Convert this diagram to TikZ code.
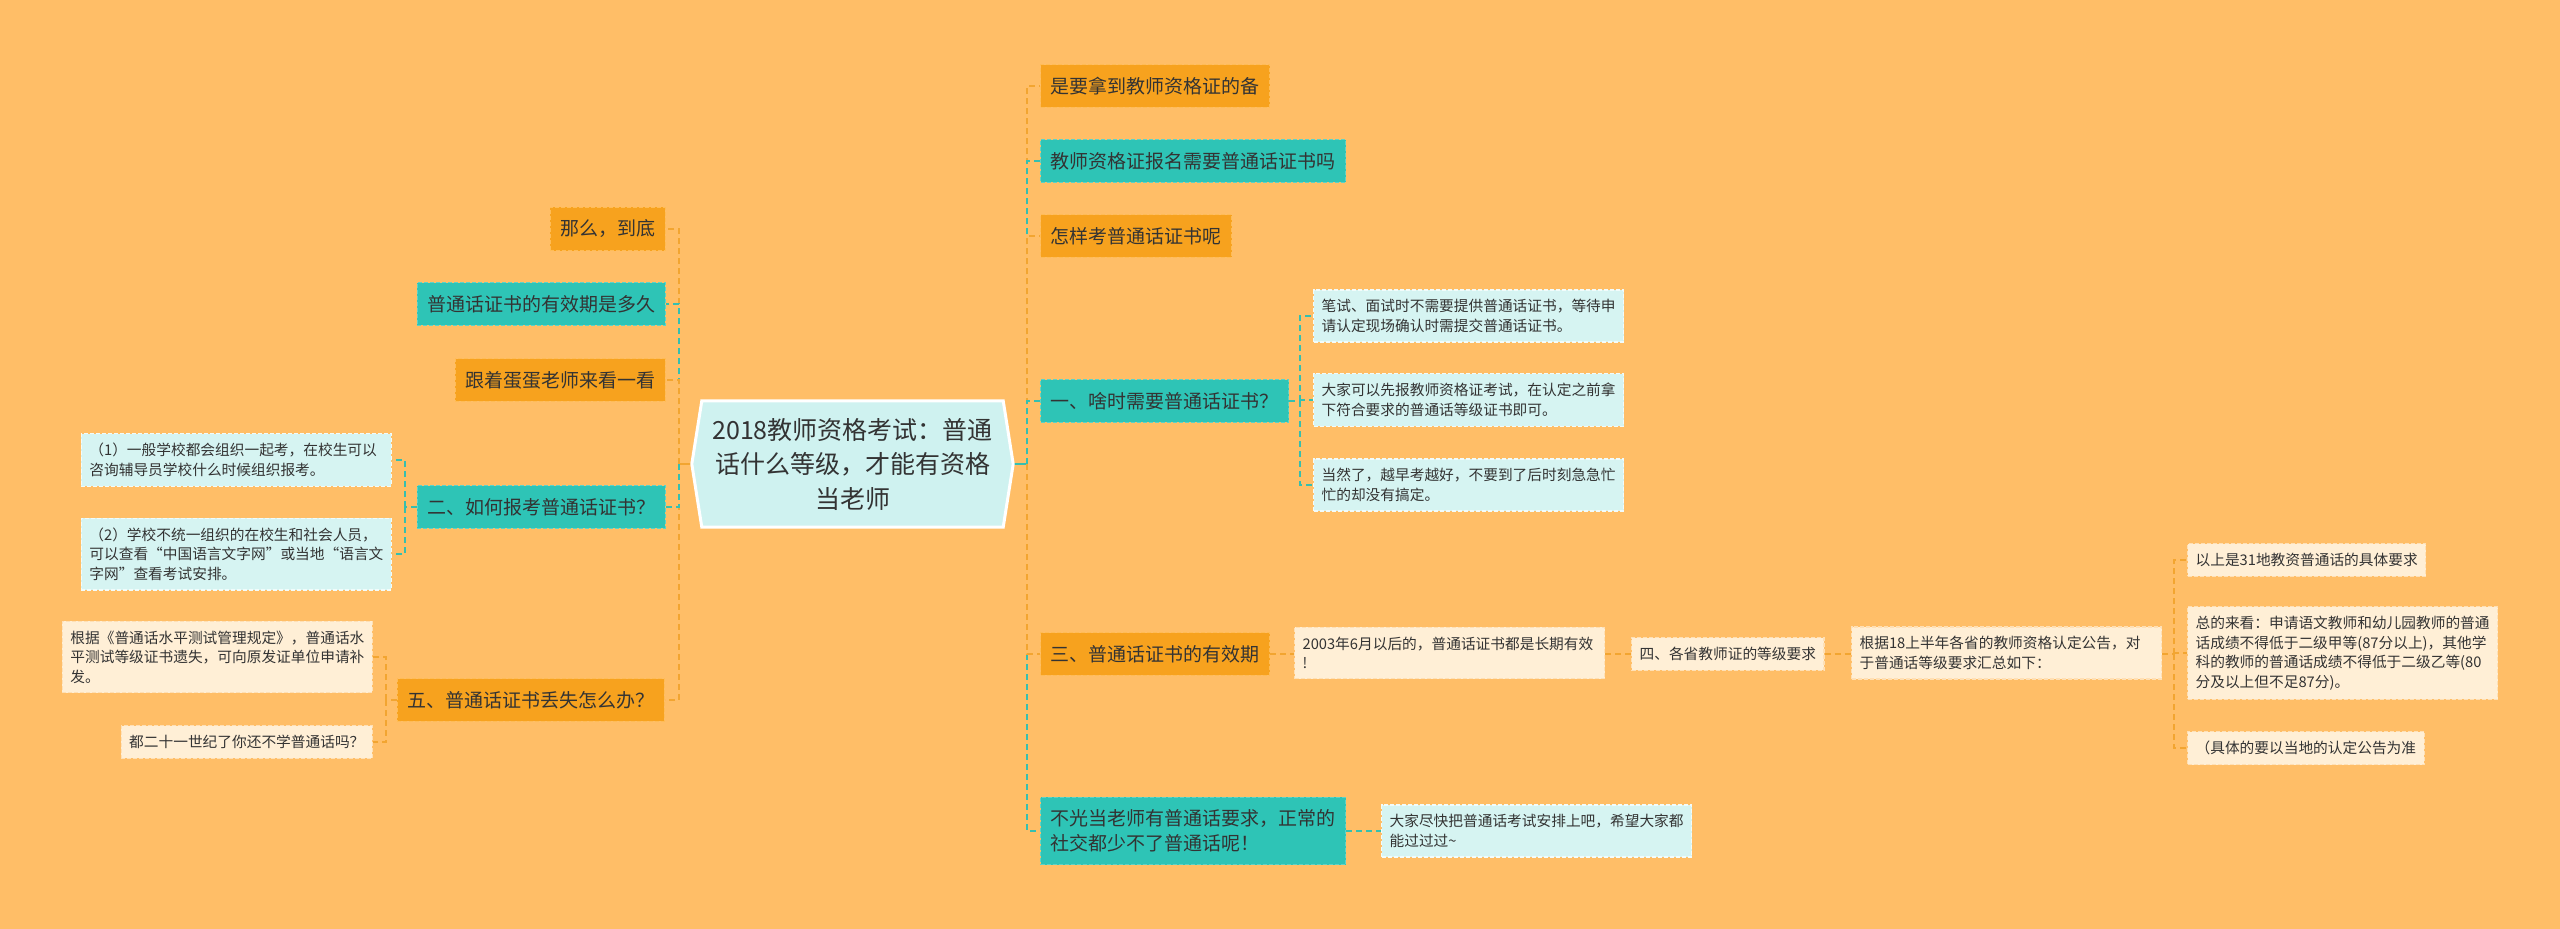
\documentclass[tikz,border=0pt]{standalone}
\usepackage{fontspec}
\setmainfont{Noto Sans CJK SC}
\usetikzlibrary{backgrounds,calc}

\definecolor{paper}{HTML}{FFBE67}
\definecolor{ink}{HTML}{333333}
\definecolor{orangeFill}{HTML}{F7A21E}
\definecolor{orangeRim}{HTML}{FFBC55}
\definecolor{tealFill}{HTML}{2EC4B6}
\definecolor{tealRim}{HTML}{5ED3C7}
\definecolor{cyanFill}{HTML}{D6F4F2}
\definecolor{cyanRim}{HTML}{F2FCFB}
\definecolor{creamFill}{HTML}{FFEFD6}
\definecolor{creamRim}{HTML}{FFE0B5}
\definecolor{lineO}{HTML}{F2A531}
\definecolor{lineT}{HTML}{36BFAF}
\definecolor{hubFill}{HTML}{CFF2F0}

\begin{document}
\begin{tikzpicture}[
  x=1pt, y=-1pt,
  box/.style={dash pattern=on 4pt off 2pt, line width=1.2pt, text=ink},
  topic/.style={box, font=\fontsize{19pt}{25pt}\selectfont, inner xsep=10pt, inner ysep=12.5pt, align=left},
  otopic/.style={topic, fill=orangeFill, draw=orangeRim},
  ttopic/.style={topic, fill=tealFill, draw=tealRim},
  note/.style={box, font=\fontsize{14.7pt}{19.5pt}\selectfont, inner xsep=8pt, inner ysep=9.5pt, align=left},
  para/.style={note, text width=294pt},
  cnote/.style={note, fill=cyanFill, draw=cyanRim},
  knote/.style={note, fill=creamFill, draw=creamRim},
  hub/.style={minimum width=301pt, minimum height=126pt, inner sep=0pt, align=center,
              font=\fontsize{25pt}{34.5pt}\selectfont, text=ink},
  link/.style={dash pattern=on 6pt off 4pt, line width=1.8pt},
  linkO/.style={link, draw=lineO},
  linkT/.style={link, draw=lineT}
]
\useasboundingbox (0,0) rectangle (2560,929);

% ---------------- centre ----------------
\node[hub] (hub) at (852.5,464) {2018教师资格考试：普通\\话什么等级，才能有资格\\当老师};
\coordinate (hubL) at ($(hub.west)+(-10,0)$);
\coordinate (hubR) at ($(hub.east)+(10,0)$);
\coordinate (spL) at (679,464);
\coordinate (spR) at (1027,464);

% ---------------- left side ----------------
\node[otopic, anchor=east] (nadi) at (666,229) {那么，到底};
\node[ttopic, anchor=east] (qixian) at (666,304) {普通话证书的有效期是多久};
\node[otopic, anchor=east] (genzhe) at (666,380) {跟着蛋蛋老师来看一看};
\node[ttopic, anchor=east] (er) at (666,507) {二、如何报考普通话证书？};
\node[otopic, anchor=east] (wu) at (665,700) {五、普通话证书丢失怎么办？};

\node[cnote, para, anchor=east] (er1) at (392,460)
  {（1）一般学校都会组织一起考，在校生可以\\咨询辅导员学校什么时候组织报考。};
\node[cnote, para, anchor=east] (er2) at (392,554)
  {（2）学校不统一组织的在校生和社会人员，\\可以查看“中国语言文字网”或当地“语言文\\字网”查看考试安排。};
\node[knote, para, anchor=east] (wu1) at (373,657)
  {根据《普通话水平测试管理规定》，普通话水\\平测试等级证书遗失，可向原发证单位申请补\\发。};
\node[knote, anchor=east] (wu2) at (373,742) {都二十一世纪了你还不学普通话吗？};

% ---------------- right side ----------------
\node[otopic, anchor=west] (bei) at (1040,86) {是要拿到教师资格证的备};
\node[ttopic, anchor=west] (baoming) at (1040,161) {教师资格证报名需要普通话证书吗};
\node[otopic, anchor=west] (zenyang) at (1040,236) {怎样考普通话证书呢};
\node[ttopic, anchor=west] (yi) at (1040,401) {一、啥时需要普通话证书？};
\node[otopic, anchor=west] (san) at (1040,654) {三、普通话证书的有效期};
\node[ttopic, anchor=west] (buguang) at (1040,831) {不光当老师有普通话要求，正常的\\社交都少不了普通话呢！};

\node[cnote, para, anchor=west] (yi1) at (1313,316)
  {笔试、面试时不需要提供普通话证书，等待申\\请认定现场确认时需提交普通话证书。};
\node[cnote, para, anchor=west] (yi2) at (1313,400)
  {大家可以先报教师资格证考试，在认定之前拿\\下符合要求的普通话等级证书即可。};
\node[cnote, para, anchor=west] (yi3) at (1313,485)
  {当然了，越早考越好，不要到了后时刻急急忙\\忙的却没有搞定。};

\node[knote, para, anchor=west] (san1) at (1294,653)
  {2003年6月以后的，普通话证书都是长期有效\\!};
\node[knote, anchor=west] (si) at (1631,654) {四、各省教师证的等级要求};
\node[knote, para, anchor=west] (huizong) at (1851,653)
  {根据18上半年各省的教师资格认定公告，对\\于普通话等级要求汇总如下：};
\node[knote, anchor=west] (req1) at (2187,560) {以上是31地教资普通话的具体要求};
\node[knote, para, anchor=west] (req2) at (2187,653)
  {总的来看：申请语文教师和幼儿园教师的普通\\话成绩不得低于二级甲等(87分以上)，其他学\\科的教师的普通话成绩不得低于二级乙等(80\\分及以上但不足87分)。};
\node[knote, anchor=west] (req3) at (2187,748) {（具体的要以当地的认定公告为准};

\node[cnote, para, anchor=west] (jinkuai) at (1381,831)
  {大家尽快把普通话考试安排上吧，希望大家都\\能过过过\textasciitilde};

% ---------------- connectors, under the boxes ----------------
\begin{scope}[on background layer]
  \fill[paper] (0,0) rectangle (2560,929);

  \draw[lineO, line width=1.8pt] (hubL) -- (spL);
  \draw[linkO] (spL) |- (nadi.east);
  \draw[linkT] (spL) |- (qixian.east);
  \draw[linkO] (spL) |- (genzhe.east);
  \draw[linkO] (spL) |- (wu.east);
  \draw[linkT] (spL) |- (er.east);

  \coordinate (erSp) at (405,507);
  \draw[linkT] (er.west) -- (erSp);
  \draw[linkT] (erSp) |- (er1.east);
  \draw[linkT] (erSp) |- (er2.east);

  \coordinate (wuSp) at (386,700);
  \draw[linkO] (wu.west) -- (wuSp);
  \draw[linkO] (wuSp) |- (wu1.east);
  \draw[linkO] (wuSp) |- (wu2.east);

  \draw[lineT, line width=1.8pt] (hubR) -- (spR);
  \draw[linkO] (spR) |- (bei.west);
  \draw[linkT] (spR) |- (baoming.west);
  \draw[linkO] (spR) |- (zenyang.west);
  \draw[linkT] (spR) |- (yi.west);
  \draw[linkT] (spR) |- (buguang.west);
  \draw[linkO] (spR) |- (san.west);

  \coordinate (yiSp) at (1300,401);
  \draw[linkT] (yi.east) -- (yiSp);
  \draw[linkT] (yiSp) |- (yi1.west);
  \draw[linkT] (yiSp) |- (yi2.west);
  \draw[linkT] (yiSp) |- (yi3.west);

  \draw[linkO] (san.east) -- (san1.west |- san.east);
  \draw[linkO] (san1.east |- si.west) -- (si.west);
  \draw[linkO] (si.east) -- (huizong.west |- si.east);

  \coordinate (reqSp) at (2174,654);
  \draw[linkO] (huizong.east |- reqSp) -- (reqSp);
  \draw[linkO] (reqSp) |- (req1.west);
  \draw[linkO] (reqSp) |- (req2.west);
  \draw[linkO] (reqSp) |- (req3.west);

  \draw[linkT] (buguang.east) -- (jinkuai.west |- buguang.east);

  \draw[white, line width=3pt, fill=hubFill]
    (hub.north west) -- (hub.north east) -- (hubR) -- (hub.south east)
    -- (hub.south west) -- (hubL) -- cycle;
\end{scope}

\end{tikzpicture}
\end{document}
